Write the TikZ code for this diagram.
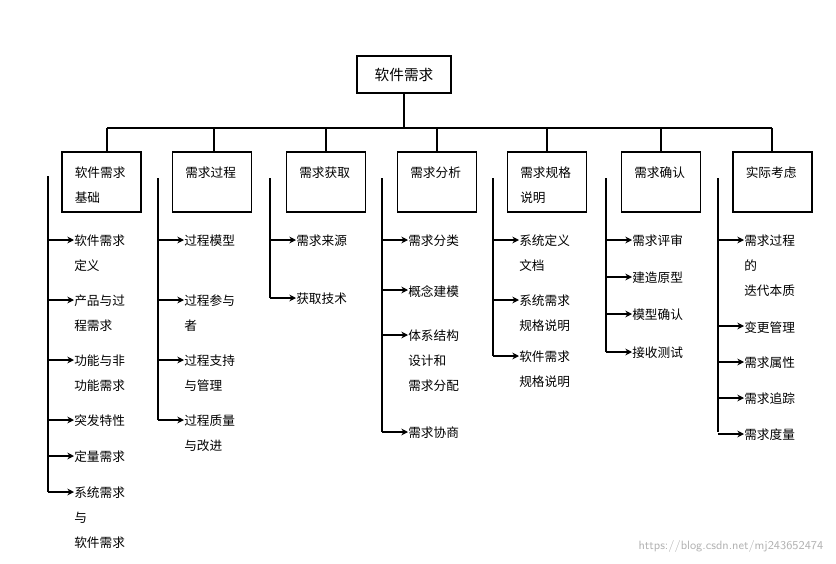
\documentclass[tikz,border=0pt]{standalone}
\usepackage{fontspec}
\newfontfamily\cjk{Noto Sans CJK SC}
\usetikzlibrary{arrows.meta}
\begin{document}
\begin{tikzpicture}[x=0.75pt,y=-0.75pt,
  box/.style={draw,line width=0.8pt,minimum width=59.25pt,minimum height=45pt,inner sep=0pt},
  boxt/.style={anchor=north west,align=left,inner sep=0pt,font=\cjk\fontsize{9.5}{18.75}\selectfont},
  item/.style={anchor=north west,align=left,inner sep=0pt,font=\cjk\fontsize{9.5}{18.75}\selectfont},
  ln/.style={line width=0.8pt},
  arr/.style={line width=0.9pt,-{Stealth[length=5pt,width=5pt]}}]
\useasboundingbox (0,0) rectangle (836,564);
\node[draw,line width=0.8pt,minimum width=70.5pt,minimum height=27.75pt,font=\cjk\fontsize{11}{14}\selectfont] (root) at (404,74.5) {软件需求};
\coordinate (bl) at (107,128); \coordinate (br) at (772,128);
\draw[ln] (root.south) -- (404,128);
\draw[ln] (bl) -- (br);
\foreach \n/\cx/\t in {c1/101.5/{软件需求\\基础},c2/212/{需求过程},c3/326/{需求获取},c4/437/{需求分析},c5/547/{需求规格\\说明},c6/661/{需求确认},c7/772.5/{实际考虑}}{
  \node[box] (\n) at (\cx,182) {};
  \node[boxt] (\n t) at (\cx-27,167) {\t};
}
\foreach \n/\x in {c1/107,c2/214,c3/326,c4/437,c5/547,c6/661,c7/772}{
  \draw[ln] (\x,128) -- (\n.north -| \x,152);
}
\newcommand{\mycol}[4]{%
  \draw[ln] (#1,#2) -- (#1,#3);
  \foreach \yy/\tt in {#4}{
    \node[item] (t\yy) at (#1+26,\yy-5) {\tt};
    \draw[arr] (#1,\yy) -- (#1+26,\yy);
  }}
\mycol{48}{176}{492}{240/{软件需求\\定义},300/{产品与过\\程需求},360/{功能与非\\功能需求},420/{突发特性},456/{定量需求},492/{系统需求\\与\\软件需求}}
\mycol{158}{178}{420}{240/{过程模型},300/{过程参与\\者},360/{过程支持\\与管理},420/{过程质量\\与改进}}
\mycol{270}{178}{298}{240/{需求来源},298/{获取技术}}
\mycol{382}{178}{432}{240/{需求分类},290/{概念建模},335/{体系结构\\设计和\\需求分配},432/{需求协商}}
\mycol{493}{178}{356}{240/{系统定义\\文档},300/{系统需求\\规格说明},356/{软件需求\\规格说明}}
\mycol{606}{178}{352}{240/{需求评审},277/{建造原型},314/{模型确认},352/{接收测试}}
\mycol{718}{178}{432}{240/{需求过程\\的\\迭代本质},326/{变更管理},362/{需求属性},398/{需求追踪},434/{需求度量}}
\node[anchor=east,text=gray!60,font=\sffamily\fontsize{9}{10}\selectfont] (wm) at (828,546) {https://blog.csdn.net/mj243652474};
\end{tikzpicture}
\end{document}
